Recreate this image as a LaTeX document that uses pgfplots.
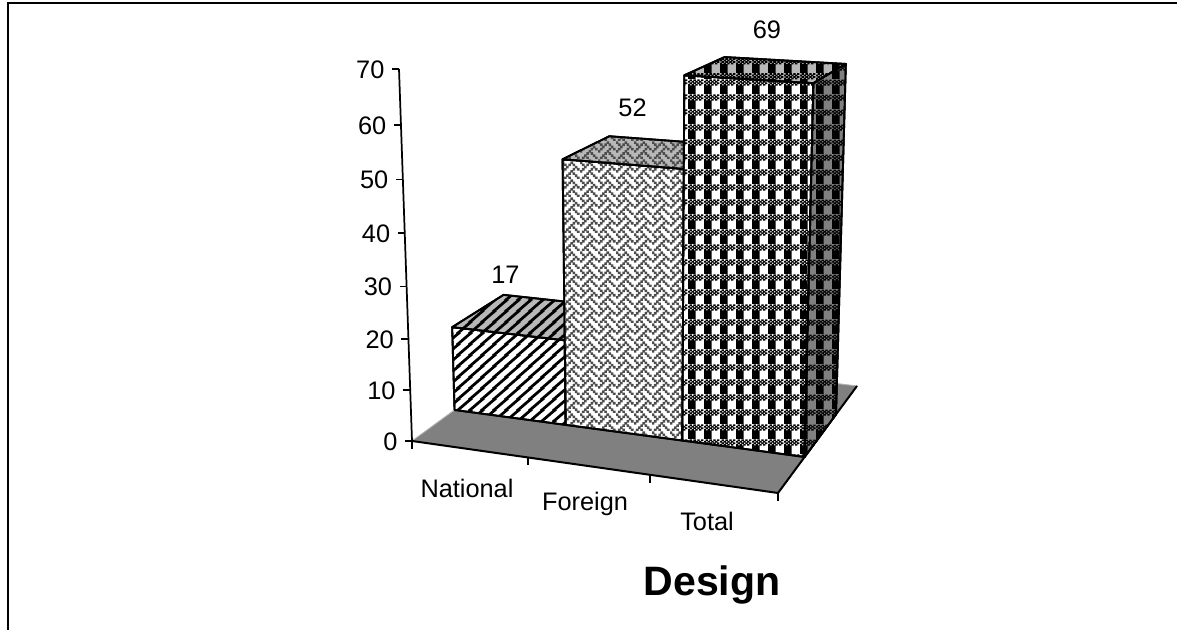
\documentclass[border=0pt]{standalone}
\usepackage{pgfplots}
\pgfplotsset{compat=1.18}
\usepackage{fontspec}
\setmainfont{Liberation Sans}
\usetikzlibrary{patterns}

% Perspective projection of (u, v, w): u along the categories (0..1),
% v into the depth of the floor (0..1), w the value.
\pgfmathdeclarefunction{projX}{3}{\pgfmathparse{(412+310*#1+219*#2-0.485*#3)/(1-0.072*#1+0.17*#2-0.00075*#3)}}
\pgfmathdeclarefunction{projY}{3}{\pgfmathparse{630-(441+16.5*#1-33.7*#2-5.366*#3)/(1-0.072*#1+0.17*#2-0.00075*#3)}}

\pgfplotsset{
  table/proj/.style={x expr={projX(\thisrow{u},\thisrow{v},\thisrow{w})},
               y expr={projY(\thisrow{u},\thisrow{v},\thisrow{w})}, row sep=\\},
}

% Fill patterns, built from small cells.
\newcommand{\wv}[2]{\pgfpathrectangle{\pgfpoint{#1*1.7pt-0.15pt}{#2*1.7pt-0.15pt}}{\pgfqpoint{2pt}{2pt}}}
\newcommand{\pl}[2]{\pgfpathrectangle{\pgfpoint{#1*1.5pt-0.15pt}{6.6pt+#2*1.1pt-0.1pt}}{\pgfqpoint{1.8pt}{1.3pt}}}

\pgfdeclarepatternformonly{widediag}{\pgfqpoint{0pt}{0pt}}{\pgfqpoint{9.3pt}{8.25pt}}{\pgfqpoint{9.3pt}{8.25pt}}{%
  \pgfsetlinewidth{2.2pt}%
  \pgfpathmoveto{\pgfqpoint{-9.3pt}{-8.25pt}}\pgfpathlineto{\pgfqpoint{18.6pt}{16.5pt}}\pgfusepath{stroke}%
  \pgfpathmoveto{\pgfqpoint{-18.6pt}{-8.25pt}}\pgfpathlineto{\pgfqpoint{9.3pt}{16.5pt}}\pgfusepath{stroke}%
  \pgfpathmoveto{\pgfqpoint{0pt}{-8.25pt}}\pgfpathlineto{\pgfqpoint{27.9pt}{16.5pt}}\pgfusepath{stroke}%
}

% Rows from the top of the tile: 88 54 22 45 88 14 22 51
\pgfdeclarepatternformonly{weave}{\pgfqpoint{0pt}{0pt}}{\pgfqpoint{13.6pt}{13.6pt}}{\pgfqpoint{13.6pt}{13.6pt}}{%
  \wv07\wv47 \wv16\wv36\wv56 \wv25\wv65 \wv14\wv54\wv74
  \wv03\wv43 \wv32\wv52 \wv21\wv61 \wv10\wv30\wv70
  \pgfusepath{fill}%
}

% Four rows of checker over four rows of blocks
\pgfdeclarepatternformonly{plaid}{\pgfqpoint{0pt}{0pt}}{\pgfqpoint{12pt}{11pt}}{\pgfqpoint{12pt}{11pt}}{%
  \pgfpathrectangle{\pgfqpoint{0pt}{0pt}}{\pgfqpoint{6pt}{6.6pt}}%
  \pl00\pl20\pl40\pl60 \pl11\pl31\pl51\pl71
  \pl02\pl22\pl42\pl62 \pl13\pl33\pl53\pl73
  \pgfusepath{fill}%
}

\definecolor{floorgray}{gray}{0.5}
\definecolor{topgray}{gray}{0.72}
\definecolor{sidegray}{gray}{0.5}
\definecolor{weavegray}{gray}{0.3}

% One column: u from #1 to #2, value #3; front, top and right faces,
% and the value above it with its label shift #7, #8.
\newcommand{\column}[8]{%
  \addplot[draw=black, line width=1.4pt, line join=round, fill=white,
           postaction={pattern=#4, pattern color=#5}]
    table[proj] {u v w\\ #1 0.3 0\\ #2 0.3 0\\ #2 0.3 #3\\ #1 0.3 #3\\ #1 0.3 0\\};
  \addplot[draw=black, line width=1.4pt, line join=round, fill=topgray,
           postaction={pattern=#4, pattern color=#5}]
    table[proj] {u v w\\ #1 0.3 #3\\ #2 0.3 #3\\ #2 0.7 #3\\ #1 0.7 #3\\ #1 0.3 #3\\};
  \if#61
  \addplot[draw=black, line width=1.4pt, line join=round, fill=sidegray,
           postaction={pattern=#4, pattern color=#5}]
    table[proj] {u v w\\ #2 0.3 0\\ #2 0.7 0\\ #2 0.7 #3\\ #2 0.3 #3\\ #2 0.3 0\\};
  \fi
  \addplot[only marks, mark=none, point meta={\thisrow{w}}, nodes near coords,
           every node near coord/.style={anchor=center, xshift=#7, yshift=#8}]
    table[proj] {u v w\\ #1 0.3 #3\\};
}

\begin{document}
\fontsize{19}{23}\selectfont
\begin{tikzpicture}
\begin{axis}[
  hide axis, scale only axis, width=882.75pt, height=472.5pt,
  xmin=0, xmax=1177, ymin=0, ymax=630, clip=false,
  /pgf/number format/assume math mode=true,
  /pgf/number format/fixed, /pgf/number format/precision=0,
  nodes near coords style={font=\fontsize{19.5}{23}\selectfont},
]
% outer frame: open at the bottom and on the right
\addplot[black, line width=1.9pt] coordinates {(8,0) (8,627) (1177,627)};

% floor
\addplot[draw=gray!60, line width=0.7pt, fill=floorgray]
  table[proj] {u v w\\ 0 0 0\\ 1 0 0\\ 1 1 0\\ 0 1 0\\ 0 0 0\\};
\addplot[black, line width=1.5pt]
  table[proj] {u v w\\ 0 0 0\\ 1 0 0\\ 1 1 0\\};

% value axis
\addplot[black, line width=1.3pt] table[proj] {u v w\\ 0 0 0\\ 0 0 70\\};
\addplot[black, line width=1.3pt, quiver={u=-7, v=0, every arrow/.style={-}}, 
         point meta={\thisrow{w}}, mark=none, nodes near coords,
         every node near coord/.style={anchor=east, xshift=-4pt, yshift=-0.6pt}]
  table[proj] {u v w\\ 0 0 0\\ 0 0 10\\ 0 0 20\\ 0 0 30\\ 0 0 40\\ 0 0 50\\ 0 0 60\\ 0 0 70\\};

% category axis ticks
\addplot[black, line width=1.3pt, quiver={u=0, v=-8, every arrow/.style={-}}, mark=none]
  table[proj] {u v w\\ 0 0 0\\ 0.3333 0 0\\ 0.6667 0 0\\ 1 0 0\\};

% columns
\column{0}{0.3333}{17}{widediag}{black}{0}{40pt}{39pt}
\column{0.3333}{0.6667}{52}{weave}{weavegray}{0}{52.5pt}{38.5pt}
\column{0.6667}{1}{69}{plaid}{black}{1}{62pt}{34.5pt}

\node at (axis cs:467,142) {National};
\node at (axis cs:585,126) {Foreign};
\node at (axis cs:707,109) {Total};
\node[font=\fontsize{30.8}{36}\selectfont\bfseries] at (axis cs:712,45) {Design};
\end{axis}
\pgfresetboundingbox
\path[use as bounding box] (0,0) rectangle (882.75pt,472.5pt);
\end{tikzpicture}
\end{document}
